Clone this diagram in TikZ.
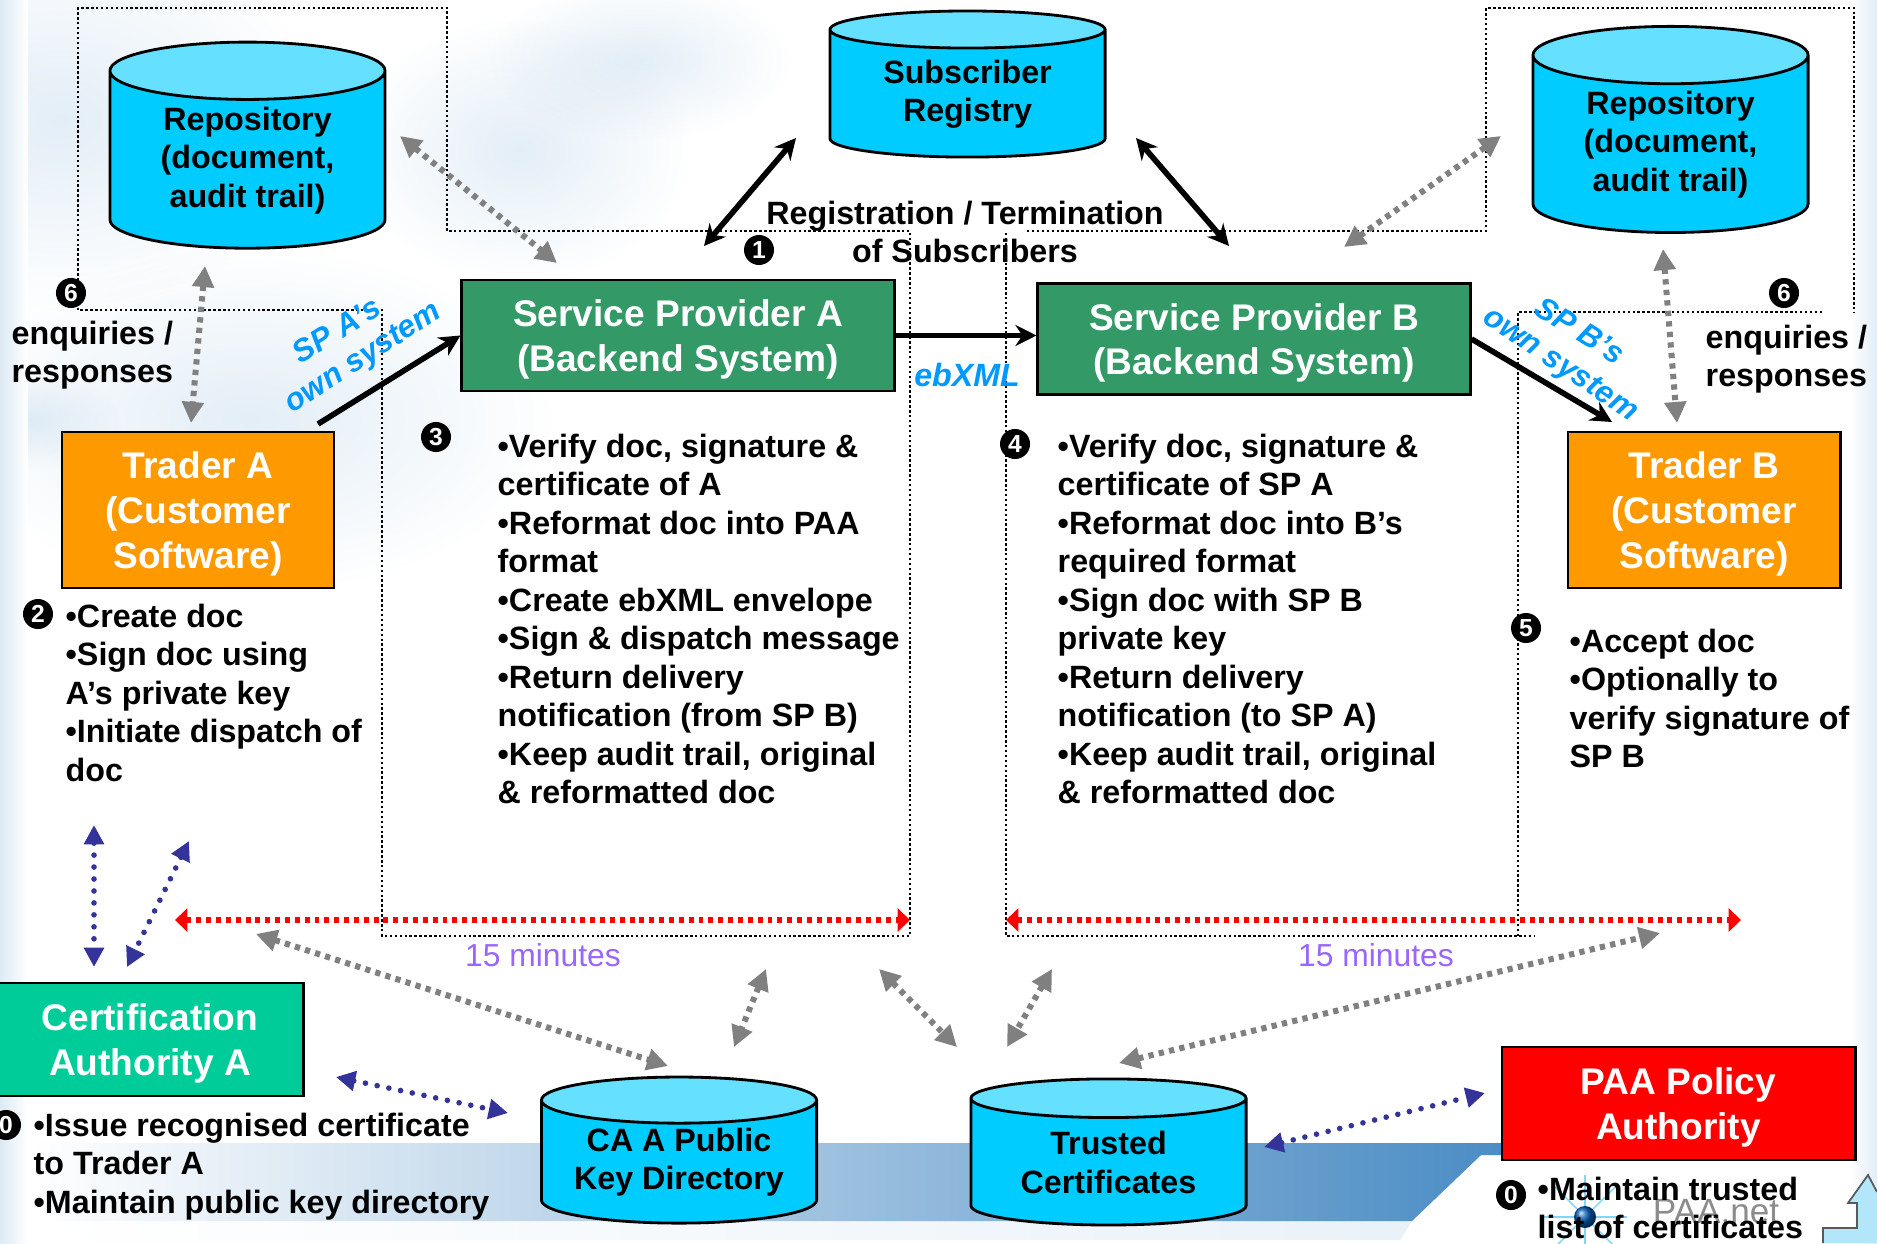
\documentclass[tikz,border=0pt]{standalone}
\usepackage{fontspec}
\setmainfont{Liberation Sans}
\usetikzlibrary{arrows.meta,shapes.geometric,fadings}
\definecolor{cylbody}{HTML}{00CCFF}
\definecolor{cyltop}{HTML}{66E0FF}
\definecolor{spgreen}{HTML}{339966}
\definecolor{traderorange}{HTML}{FF9900}
\definecolor{catea}{HTML}{00CC99}
\definecolor{arrblue}{HTML}{333399}
\definecolor{labelblue}{HTML}{0099FF}
\definecolor{minpurple}{HTML}{9966FF}
\definecolor{blotch}{HTML}{A9CBE6}
\definecolor{bandblue}{HTML}{4A8CC4}
\tikzfading[name=blobfade,inner color=transparent!68,outer color=transparent!100]
\newcommand{\boxtop}{\rule{0pt}{9.85pt}}
\begin{document}
\begin{tikzpicture}[x=0.01cm,y=-0.01cm,
	every node/.style={font=\fontsize{9.17}{10.95}\selectfont\bfseries,inner sep=0pt},
	cyl/.style={draw=black,line width=.8pt,cylinder,shape border rotate=90,cylinder uses custom fill,cylinder body fill=cylbody,cylinder end fill=cyltop,align=center,minimum width=2.75cm},
	cylbig/.style={cyl,shape aspect=.33,minimum height=2.06cm},
	cylsmall/.style={cyl,shape aspect=.22,minimum height=1.46cm},
	bigbox/.style={draw=black,line width=.8pt,align=center,text=white,font=\fontsize{10.55}{12.75}\selectfont\bfseries},
	spbox/.style={bigbox,fill=spgreen,minimum width=4.32cm,minimum height=1.11cm},
	traderbox/.style={bigbox,fill=traderorange,minimum width=2.72cm,minimum height=1.56cm},
	listtext/.style={anchor=north west,align=left},
	num/.style={circle,fill=black,text=white,minimum size=.3cm,font=\fontsize{7}{7}\selectfont\bfseries},
	mins/.style={text=minpurple,font=\fontsize{9.05}{11}\selectfont},
	splabel/.style={text=labelblue,font=\fontsize{8.9}{11}\selectfont\bfseries\itshape},
	frameline/.style={black,line width=.5pt,dash pattern=on .7pt off .7pt},
	blackarr/.style={black,line width=1.6pt,-{Stealth[length=6pt,width=6pt]}},
	blackboth/.style={blackarr,{Stealth[length=6pt,width=6pt]}-{Stealth[length=6pt,width=6pt]}},
	grayarr/.style={color=gray,line width=1.7pt,dash pattern=on 1.5pt off 1.5pt,{Triangle[length=6pt,width=6pt]}-{Triangle[length=6pt,width=6pt]}},
	bluearr/.style={color=arrblue,line width=1.6pt,line cap=round,dash pattern=on 0pt off 3.4pt,{Triangle[length=5.5pt,width=5.5pt]}-{Triangle[length=5.5pt,width=5.5pt]}},
	redarr/.style={color=red,line width=1.7pt,dash pattern=on 1.4pt off 1.4pt,{Triangle[length=3.5pt,width=6.5pt]}-{Triangle[length=3.5pt,width=6.5pt]}}]
	\useasboundingbox (0,0) rectangle (1877,1243);
	\clip (0,0) rectangle (1877,1243);
	% background
	\fill[white] (0,0) rectangle (1877,1243);
	\fill[blotch,path fading=blobfade] (60,120) ellipse (260 and 190);
	\fill[blotch,path fading=blobfade] (250,420) ellipse (300 and 170);
	\fill[blotch,path fading=blobfade] (520,150) ellipse (170 and 130);
	\fill[blotch,path fading=blobfade] (30,420) ellipse (90 and 50);
	\fill[blotch,path fading=blobfade] (640,60) ellipse (150 and 80);
	\shade[left color=blotch!40,right color=white] (0,0) rectangle (28,1243);
	\shade[left color=white,right color=blotch!35] (1850,0) rectangle (1877,1243);
	\shade[left color=white,right color=blotch!25] (40,1221) -- (1412,1221) -- (1400,1240) -- (60,1240) -- cycle;
	\shade[left color=white,right color=bandblue] (30,1143) -- (1510,1143) -- (1510,1155) -- (1481,1155) -- (1412,1221) -- (55,1221) -- cycle;
	\fill[cyan!30!white] (1868,1175) -- (1877,1192) -- (1877,1243) -- (1823,1243) -- (1823,1228) -- (1857,1228) -- (1857,1203) -- (1848,1203) -- cycle;
	\draw[black!65,line width=.5pt] (1877,1192) -- (1868,1175) -- (1848,1203) -- (1857,1203) -- (1857,1228) -- (1823,1228) -- (1823,1243);
	% logo behind the last list
	\foreach \a in {0,45,...,315}
		\draw[cyan!50,line width=.4pt] (1585,1217) -- ++(\a:42);
	\shade[ball color=blue!50!cyan!70!black] (1585,1217) circle (11);
	\node[font=\fontsize{10}{11}\selectfont\rmfamily,text=black!45] (logo) at (1716,1212) {PAA.net};
	% dotted frames
	\draw[frameline] (78,310) -- (78,8) -- (447,8) -- (447,231) -- (910,231) -- (910,936) -- (382,936) -- (382,310) -- cycle;
	\draw[frameline] (1006,233) -- (1006,936) -- (1534,936);
	\draw[frameline] (1518,936) -- (1518,312) -- (1822,312);
	\draw[frameline] (1027,231) -- (1486,231) -- (1486,8) -- (1854,8) -- (1854,312);
	% stores
	\node[cylbig] (repoa) at (247.5,160.2) {Repository\\(document,\\audit trail)};
	\node[cylbig] (repob) at (1670.5,144.5) {Repository\\(document,\\audit trail)};
	\node[cylsmall] (subreg) at (967.5,94) {Subscriber\\Registry};
	\node[cylsmall] (capub) at (679,1162.3) {CA A Public\\Key Directory};
	\node[cylsmall] (trusted) at (1108.5,1162.3) {Trusted\\Certificates};
	% boxes
	\node[spbox] (spa) at (678,335.5) {\boxtop Service Provider A\\(Backend System)};
	\node[spbox] (spb) at (1254,339) {\boxtop Service Provider B\\(Backend System)};
	\node[traderbox] (tradera) at (198,510) {\boxtop Trader A\\(Customer\\Software)};
	\node[traderbox] (traderb) at (1704,510) {\boxtop Trader B\\(Customer\\Software)};
	\node[bigbox,fill=catea,minimum width=3.06cm,minimum height=1.13cm] (caa) at (150,1039.5) {\boxtop Certification\\Authority A};
	\node[bigbox,fill=red,minimum width=3.53cm,minimum height=1.13cm] (paa) at (1678.5,1103.5) {\boxtop PAA Policy\\Authority};
	% free ends of the arrows
	\coordinate (rega1) at (704,246);
	\coordinate (rega2) at (796,138);
	\coordinate (regb1) at (1229,246);
	\coordinate (regb2) at (1136,138);
	\coordinate (subma) at (318,424);
	\coordinate (submb) at (1612,422);
	\coordinate (audita1) at (400,136);
	\coordinate (audita2) at (557,263);
	\coordinate (auditb1) at (1501,136);
	\coordinate (auditb2) at (1344,247);
	\coordinate (enqa1) at (205,266);
	\coordinate (enqa2) at (191,423);
	\coordinate (enqb1) at (1663,249);
	\coordinate (enqb2) at (1677,423);
	\coordinate (chka1) at (256,934);
	\coordinate (chka2) at (668,1066);
	\coordinate (chkb1) at (766,969);
	\coordinate (chkb2) at (734,1047);
	\coordinate (chkc1) at (879,969);
	\coordinate (chkc2) at (957,1047);
	\coordinate (chkd1) at (1052,969);
	\coordinate (chkd2) at (1007,1047);
	\coordinate (chke1) at (1119,1063);
	\coordinate (chke2) at (1660,933);
	\coordinate (cert1) at (94,825);
	\coordinate (cert2) at (94,967);
	\coordinate (cert3) at (189,841);
	\coordinate (cert4) at (127,967);
	\coordinate (pub1) at (336,1077);
	\coordinate (pub2) at (508,1113);
	\coordinate (pol1) at (1264,1147);
	\coordinate (pol2) at (1485,1093);
	\coordinate (time1) at (175,920);
	\coordinate (time2) at (910,920);
	\coordinate (time3) at (1006,920);
	\coordinate (time4) at (1741,920);
	% arrows
	\draw[blackboth] (rega1)--(rega2);
	\draw[blackboth] (regb1)--(regb2);
	\draw[blackarr] (subma)--(spa.west);
	\draw[blackarr] (spa.east)--(spa.east -| spb.west);
	\draw[blackarr] (spb.east)--(submb);
	\foreach \p/\q in {audita1/audita2,auditb1/auditb2,enqa1/enqa2,enqb1/enqb2,chka1/chka2,chkb1/chkb2,chkc1/chkc2,chkd1/chkd2,chke1/chke2}
		\draw[grayarr] (\p)--(\q);
	\foreach \p/\q in {cert1/cert2,cert3/cert4,pub1/pub2,pol1/pol2}
		\draw[bluearr] (\p)--(\q);
	\draw[redarr] (time1)--(time2);
	\draw[redarr] (time3)--(time4);
	% numbers
	\node[num] (n1) at (759,250) {1};
	\node[num] (n2) at (38,614) {2};
	\node[num] (n3) at (436,437) {3};
	\node[num] (n4) at (1015,444) {4};
	\node[num] (n5) at (1526,628) {5};
	\node[num] (n6a) at (71,293) {6};
	\node[num] (n6b) at (1784,293) {6};
	\node[num] (n0a) at (6,1125) {0};
	\node[num] (n0b) at (1511,1195) {0};
	% texts
	\node[align=center] (regtext) at (965,232) {Registration / Termination\\of Subscribers};
	\node[splabel,font=\fontsize{9.15}{11}\selectfont\bfseries\itshape] (ebxml) at (967,375) {ebXML};
	\node[splabel,rotate=32] (spaname) at (336,330) {SP A's};
	\node[splabel,rotate=33] (spaown) at (364,359) {own system};
	\node[splabel,rotate=-32] (spbname) at (1580,330) {SP B's};
	\node[splabel,rotate=-34] (spbown) at (1560,366) {own system};
	\node[listtext] (enqa) at (11,320) {enquiries /\\responses};
	\node[listtext] (enqb) at (1705,324) {enquiries /\\responses};
	\node[listtext] (tatext) at (65,603) {•Create doc\\•Sign doc using\\A’s private key\\•Initiate dispatch of\\doc};
	\node[listtext] (tbtext) at (1569,628) {•Accept doc\\•Optionally to\\verify signature of\\SP B};
	\node[listtext] (spatext) at (497,433) {•Verify doc, signature \&\\certificate of A\\•Reformat doc into PAA\\format\\•Create ebXML envelope\\•Sign \& dispatch message\\•Return delivery\\notification (from SP B)\\•Keep audit trail, original\\\& reformatted doc};
	\node[listtext] (spbtext) at (1057,433) {•Verify doc, signature \&\\certificate of SP A\\•Reformat doc into B’s\\required format\\•Sign doc with SP B\\private key\\•Return delivery\\notification (to SP A)\\•Keep audit trail, original\\\& reformatted doc};
	\node[listtext] (catext) at (33,1112) {•Issue recognised certificate\\to Trader A\\•Maintain public key directory};
	\node[listtext] (paatext) at (1537,1176) {•Maintain trusted\\list of certificates};
	\node[mins] (mina) at (543,955) {15 minutes};
	\node[mins] (minb) at (1376,955) {15 minutes};
\end{tikzpicture}
\end{document}
